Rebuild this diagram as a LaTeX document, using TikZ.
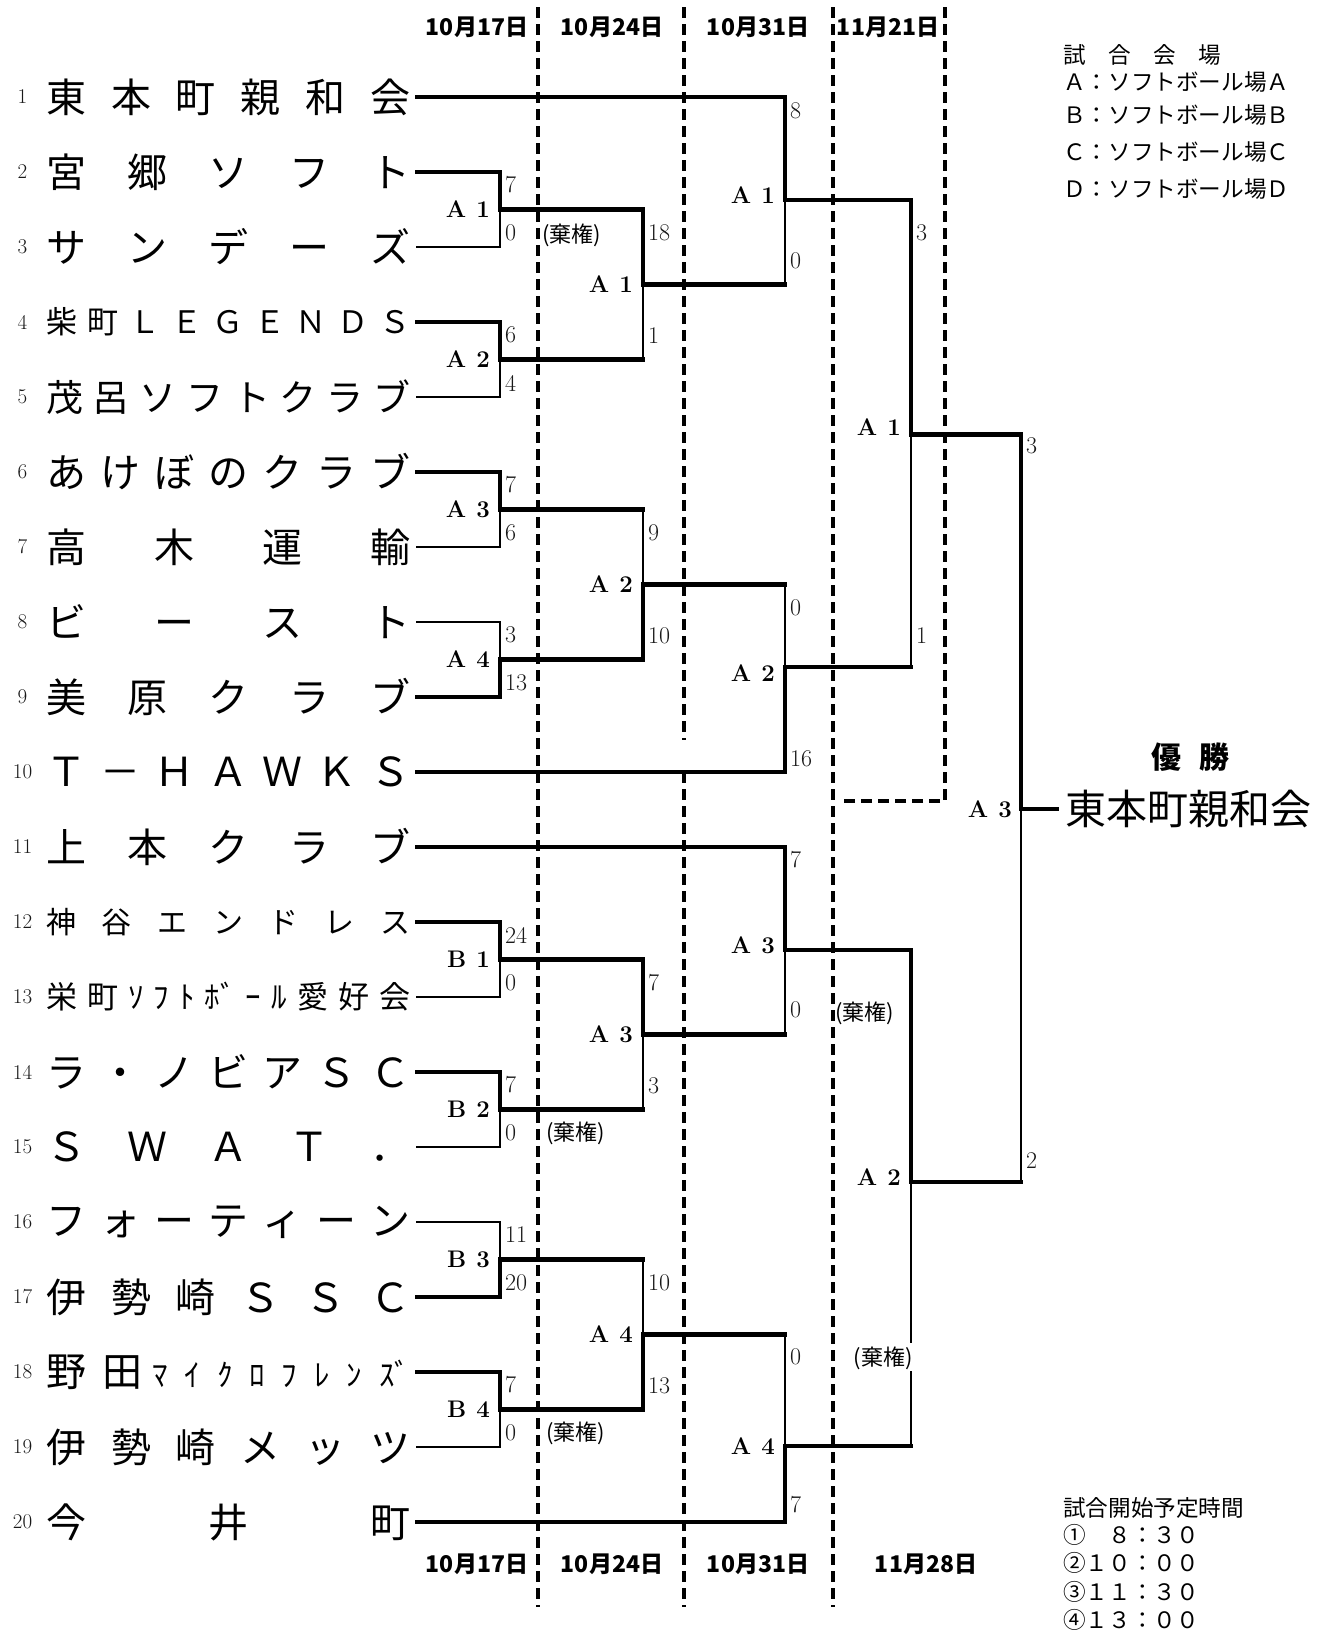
\documentclass[tikz,border=0pt]{standalone}
\usepackage{fontspec}
\newfontfamily\jp{Noto Sans CJK JP}
\tikzset{
  wl/.style={line width=4.2pt, line cap=rect},
  ll/.style={line width=2pt, line cap=rect},
  dl/.style={line width=3.4pt, dash pattern=on 11pt off 6pt},
  tname/.style={anchor=west, inner sep=0pt},
  tnum/.style={inner sep=0pt, text=black!90, font=\fontsize{21}{21}\selectfont},
  sc/.style={anchor=west, inner sep=0pt, text=black!90, font=\fontsize{24}{24}\selectfont},
  rl/.style={anchor=east, inner sep=0pt, font=\fontsize{24}{24}\selectfont\bfseries},
  kiken/.style={inner sep=0pt, font=\jp\fontsize{22}{22}\selectfont},
  datel/.style={inner sep=0pt, font=\jp\bfseries\fontsize{23}{23}\selectfont},
  leg/.style={anchor=west, inner sep=0pt, font=\jp\fontsize{22.6}{22.6}\selectfont}
}
\newcommand\tm[3]{%
  \node[tnum] (num#1) at (22.5,{97+75*(#1-1)}) {#1};
  \node[tname] (team#1) at (46,{97+75*(#1-1)}) {\jp\fontsize{#2}{#2}\selectfont\makebox[364pt][s]{#3}};}
\newcommand\matchT[3]{\draw[ll] (#2) -| (#3); \draw[wl] (#1) -| (#3);}
\newcommand\matchB[3]{\draw[ll] (#1) -| (#3); \draw[wl] (#2) -| (#3);}
\newcommand\rlab[4]{\node[rl] (#1) at (#2) {#3\hspace{0.42em}#4};}
\newcommand\scr[3]{\node[sc] (#1) at (#2) {#3};}
\begin{document}
\begin{tikzpicture}[x=1pt,y=-1pt]
\useasboundingbox (0,0) rectangle (1326,1633);

% ---------- dashed column lines ----------
\coordinate (d1t) at (538,7);   \coordinate (d1b) at (538,1607);
\coordinate (d2t) at (684,7);   \coordinate (d2m) at (684,740);
\coordinate (d2n) at (684,772); \coordinate (d2b) at (684,1607);
\coordinate (d3t) at (833,7);   \coordinate (d3b) at (833,1607);
\coordinate (d4t) at (945,7);   \coordinate (d4c) at (945,801);
\coordinate (d4e) at (838,801);
\draw[dl] (d1t) -- (d1b);
\draw[dl] (d2t) -- (d2m);
\draw[dl] (d2n) -- (d2b);
\draw[dl] (d3t) -- (d3b);
\draw[dl] (d4t) -- (d4c) -- (d4e);

% ---------- teams ----------
\foreach \i in {1,...,20} \coordinate (t\i) at (417,{97+75*(\i-1)});
\tm{1}{40}{東\hfill 本\hfill 町\hfill 親\hfill 和\hfill 会}
\tm{2}{40}{宮\hfill 郷\hfill ソ\hfill フ\hfill ト}
\tm{3}{40}{サ\hfill ン\hfill デ\hfill ー\hfill ズ}
\tm{4}{31}{柴\hfill 町\hfill Ｌ\hfill Ｅ\hfill Ｇ\hfill Ｅ\hfill Ｎ\hfill Ｄ\hfill Ｓ}
\tm{5}{37}{茂\hfill 呂\hfill ソ\hfill フ\hfill ト\hfill ク\hfill ラ\hfill ブ}
\tm{6}{40}{あ\hfill け\hfill ぼ\hfill の\hfill ク\hfill ラ\hfill ブ}
\tm{7}{40}{高\hfill 木\hfill 運\hfill 輸}
\tm{8}{40}{ビ\hfill ー\hfill ス\hfill ト}
\tm{9}{40}{美\hfill 原\hfill ク\hfill ラ\hfill ブ}
\tm{10}{40}{Ｔ\hfill －\hfill Ｈ\hfill Ａ\hfill Ｗ\hfill Ｋ\hfill Ｓ}
\tm{11}{40}{上\hfill 本\hfill ク\hfill ラ\hfill ブ}
\tm{12}{30}{神\hfill 谷\hfill エ\hfill ン\hfill ド\hfill レ\hfill ス}
\tm{13}{31}{栄\hfill 町\hfill ｿ\hfill ﾌ\hfill ﾄ\hfill ﾎﾞ\hfill ｰ\hfill ﾙ\hfill 愛\hfill 好\hfill 会}
\tm{14}{40}{ラ\hfill ・\hfill ノ\hfill ビ\hfill ア\hfill Ｓ\hfill Ｃ}
\tm{15}{40}{Ｓ\hfill Ｗ\hfill Ａ\hfill Ｔ\hfill ．}
\tm{16}{40}{フ\hfill ォ\hfill ー\hfill テ\hfill ィ\hfill ー\hfill ン}
\tm{17}{40}{伊\hfill 勢\hfill 崎\hfill Ｓ\hfill Ｓ\hfill Ｃ}
\tm{18}{40}{野\hspace{16pt}田\hspace{10pt}\makebox[258pt][s]{\fontsize{31}{31}\selectfont ﾏ\hfill ｲ\hfill ｸ\hfill ﾛ\hfill ﾌ\hfill ﾚ\hfill ﾝ\hfill ｽﾞ}}
\tm{19}{40}{伊\hfill 勢\hfill 崎\hfill メ\hfill ッ\hfill ツ}
\tm{20}{40}{今\hfill 井\hfill 町}

% ---------- match points ----------
\coordinate (a11) at (500,209.5);  \coordinate (a12) at (500,359.5);
\coordinate (a13) at (500,509.5);  \coordinate (a14) at (500,659.5);
\coordinate (b11) at (500,959.5);  \coordinate (b12) at (500,1109.5);
\coordinate (b13) at (500,1259.5); \coordinate (b14) at (500,1409.5);
\coordinate (a21) at (643,284.5);  \coordinate (a22) at (643,584.5);
\coordinate (a23) at (643,1034.5); \coordinate (a24) at (643,1334.5);
\coordinate (a31) at (785,200);    \coordinate (a32) at (785,667);
\coordinate (a33) at (785,950);    \coordinate (a34) at (785,1446);
\coordinate (a41) at (911,434.5);  \coordinate (a42) at (911,1182);
\coordinate (gapt) at (911,1342);  \coordinate (gapb) at (911,1372);
\coordinate (f) at (1021,809);     \coordinate (cend) at (1057,809);

% ---------- bracket ----------
\matchT{t2}{t3}{a11}
\matchT{t4}{t5}{a12}
\matchT{t6}{t7}{a13}
\matchB{t8}{t9}{a14}
\matchT{t12}{t13}{b11}
\matchT{t14}{t15}{b12}
\matchB{t16}{t17}{b13}
\matchT{t18}{t19}{b14}
\matchT{a11}{a12}{a21}
\matchB{a13}{a14}{a22}
\matchT{b11}{b12}{a23}
\matchB{b13}{b14}{a24}
\matchT{t1}{a21}{a31}
\matchB{a22}{t10}{a32}
\matchT{t11}{a23}{a33}
\matchB{a24}{t20}{a34}
\matchT{a31}{a32}{a41}
\draw[ll] (a34) -| (gapb);
\draw[ll] (gapt) -- (a42);
\draw[wl] (a33) -| (a42);
\matchT{a41}{a42}{f}
\foreach \m/\n in {a11/a21,a12/a21,a13/a22,a14/a22,b11/a23,b12/a23,b13/a24,b14/a24,
  a21/a31,a22/a32,a23/a33,a24/a34,a31/a41,a32/a41,a33/a42,a34/a42,a41/f,a42/f}
  \draw[wl] (\m) -- (\m -| \n);
\draw[wl] (f) -- (cend);

% ---------- match labels ----------
\rlab{l11}{490,209.5}{A}{1}  \rlab{l12}{490,359.5}{A}{2}
\rlab{l13}{490,509.5}{A}{3}  \rlab{l14}{490,659.5}{A}{4}
\rlab{m11}{490,959.5}{B}{1}  \rlab{m12}{490,1109.5}{B}{2}
\rlab{m13}{490,1259.5}{B}{3} \rlab{m14}{490,1409.5}{B}{4}
\rlab{l21}{633,284.5}{A}{1}  \rlab{l22}{633,584.5}{A}{2}
\rlab{l23}{633,1034.5}{A}{3} \rlab{l24}{633,1334.5}{A}{4}
\rlab{l31}{775,195}{A}{1}    \rlab{l32}{775,673}{A}{2}
\rlab{l33}{775,945}{A}{3}    \rlab{l34}{775,1446}{A}{4}
\rlab{l41}{901,427}{A}{1}    \rlab{l42}{901,1177}{A}{2}
\rlab{lf}{1012,809}{A}{3}

% ---------- scores ----------
\scr{s1a}{505,185}{7}   \scr{s1b}{505,233}{0}
\scr{s2a}{505,335}{6}   \scr{s2b}{505,383}{4}
\scr{s3a}{505,485}{7}   \scr{s3b}{505,533}{6}
\scr{s4a}{505,635}{3}   \scr{s4b}{505,683}{13}
\scr{s5a}{505,935}{24}  \scr{s5b}{505,983}{0}
\scr{s6a}{505,1085}{7}  \scr{s6b}{505,1133}{0}
\scr{s7a}{505,1235}{11} \scr{s7b}{505,1283}{20}
\scr{s8a}{505,1385}{7}  \scr{s8b}{505,1433}{0}
\scr{r1a}{648,233}{18}  \scr{r1b}{648,336}{1}
\scr{r2a}{648,533}{9}   \scr{r2b}{648,636}{10}
\scr{r3a}{648,983}{7}   \scr{r3b}{648,1086}{3}
\scr{r4a}{648,1283}{10} \scr{r4b}{648,1386}{13}
\scr{q1a}{790,111}{8}   \scr{q1b}{790,261}{0}
\scr{q2a}{790,608}{0}   \scr{q2b}{790,759}{16}
\scr{q3a}{790,860}{7}   \scr{q3b}{790,1010}{0}
\scr{q4a}{790,1357}{0}  \scr{q4b}{790,1505}{7}
\scr{p1a}{916,233}{3}   \scr{p1b}{916,636}{1}
\scr{fa}{1026,446}{3}   \scr{fb}{1026,1161}{2}

% ---------- forfeits ----------
\node[kiken, anchor=west] (k1) at (542,235) {(棄権)};
\node[kiken, anchor=west] (k2) at (546,1133) {(棄権)};
\node[kiken, anchor=west] (k3) at (546,1433) {(棄権)};
\node[kiken, anchor=west] (k4) at (835,1013) {(棄権)};
\node[kiken, anchor=east] (k5) at (913,1358) {(棄権)};

% ---------- dates ----------
\node[datel] (dt1) at (477,27) {10月17日};
\node[datel] (dt2) at (612,27) {10月24日};
\node[datel] (dt3) at (758,27) {10月31日};
\node[datel] (dt4) at (888,27) {11月21日};
\node[datel] (db1) at (477,1564) {10月17日};
\node[datel] (db2) at (612,1564) {10月24日};
\node[datel] (db3) at (758,1564) {10月31日};
\node[datel] (db4) at (926,1564) {11月28日};

% ---------- champion ----------
\node[inner sep=0pt, font=\jp\bfseries\fontsize{30}{30}\selectfont] (yusho) at (1190,757) {優\hspace{0.6em}勝};
\node[inner sep=0pt, anchor=west, font=\jp\fontsize{41}{41}\selectfont] (champ) at (1065,809) {東本町親和会};

% ---------- legends ----------
\node[leg] (g0) at (1063,55) {試　合　会　場};
\node[leg] (g1) at (1063,82) {Ａ：ソフトボール場Ａ};
\node[leg] (g2) at (1063,115) {Ｂ：ソフトボール場Ｂ};
\node[leg] (g3) at (1063,152) {Ｃ：ソフトボール場Ｃ};
\node[leg] (g4) at (1063,189) {Ｄ：ソフトボール場Ｄ};
\node[leg] (h0) at (1063,1508) {試合開始予定時間};
\node[leg] (h1) at (1063,1535) {①　８：３０};
\node[leg] (h2) at (1063,1563) {②１０：００};
\node[leg] (h3) at (1063,1592) {③１１：３０};
\node[leg] (h4) at (1063,1620) {④１３：００};
\end{tikzpicture}
\end{document}
